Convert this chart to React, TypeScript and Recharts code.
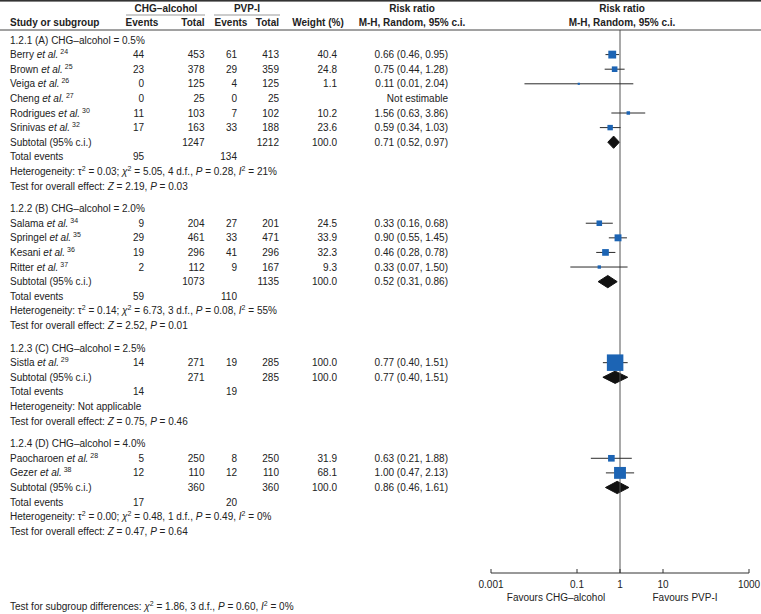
import { Area, ComposedChart, ErrorBar, ReferenceLine, Scatter, XAxis, YAxis } from "recharts";

const GROUP_TITLES = [
  "1.2.1 (A) CHG\u2013alcohol = 0.5%",
  "1.2.2 (B) CHG\u2013alcohol = 2.0%",
  "1.2.3 (C) CHG\u2013alcohol = 2.5%",
  "1.2.4 (D) CHG\u2013alcohol = 4.0%",
];
const STUDY_NAMES = [
  ["Berry", "Brown", "Veiga", "Cheng", "Rodrigues", "Srinivas"],
  ["Salama", "Springel", "Kesani", "Ritter"],
  ["Sistla"],
  ["Paocharoen", "Gezer"],
];
const STUDY_REFS = [[24, 25, 26, 27, 30, 32], [34, 35, 36, 37], [29], [28, 38]];
const CHG_EVENTS = [[44, 23, 0, 0, 11, 17], [9, 29, 19, 2], [14], [5, 12]];
const CHG_TOTALS = [[453, 378, 125, 25, 103, 163], [204, 461, 296, 112], [271], [250, 110]];
const PVP_EVENTS = [[61, 29, 4, 0, 7, 33], [27, 33, 41, 9], [19], [8, 12]];
const PVP_TOTALS = [[413, 359, 125, 25, 102, 188], [201, 471, 296, 167], [285], [250, 110]];
const WEIGHTS = [[40.4, 24.8, 1.1, null, 10.2, 23.6], [24.5, 33.9, 32.3, 9.3], [100.0], [31.9, 68.1]];
const RISK_RATIOS = [[0.66, 0.75, 0.11, null, 1.56, 0.59], [0.33, 0.9, 0.46, 0.33], [0.77], [0.63, 1.0]];
const CI_LOWER = [[0.46, 0.44, 0.006, null, 0.63, 0.34], [0.16, 0.55, 0.28, 0.07], [0.4], [0.21, 0.47]];
const CI_UPPER = [[0.95, 1.28, 2.04, null, 3.86, 1.03], [0.68, 1.45, 0.78, 1.5], [1.51], [1.88, 2.13]];

const SUB_CHG_TOTALS = [1247, 1073, 271, 360];
const SUB_PVP_TOTALS = [1212, 1135, 285, 360];
const SUB_RR = [0.71, 0.52, 0.77, 0.86];
const SUB_LOWER = [0.52, 0.31, 0.4, 0.46];
const SUB_UPPER = [0.97, 0.86, 1.51, 1.61];
const TOTAL_EVENTS_CHG = [95, 59, 14, 17];
const TOTAL_EVENTS_PVP = [134, 110, 19, 20];

const HET_TAU2 = ["0.03", "0.14", null, "0.00"];
const HET_CHI2 = ["5.05", "6.73", null, "0.48"];
const HET_DF = [4, 3, null, 1];
const HET_P = ["0.28", "0.08", null, "0.49"];
const HET_I2 = [21, 55, null, 0];
const OVERALL_Z = ["2.19", "2.52", "0.75", "0.47"];
const OVERALL_P = ["0.03", "0.01", "0.46", "0.64"];

const AXIS_TICKS = [0.001, 0.1, 1, 10, 1000];

// layout
const W = 761;
const H = 614;
const FONT = "'Liberation Sans', Arial, Helvetica, sans-serif";
const FS = 10;
const SUP = 7;
const INK = "#222";
const ROW_TOP = 40;
const ROW_PX = 14.6;
const GROUP_GAP = 1.55;
const PLOT_TOP = 30;
const PLOT_BOTTOM = 573;
const PLOT_LEFT = 491;
const PLOT_RIGHT = 749;
const Y_DOMAIN = [(PLOT_TOP - ROW_TOP) / ROW_PX, (PLOT_BOTTOM - ROW_TOP) / ROW_PX];
const DIAMOND_HALF = 0.42;

const COL = { name: 10, chgEv: 144, chgTot: 204.5, pvpEv: 237, pvpTot: 279, weight: 337, rr: 448 };

type Row = { u: number; kind: string; g: number; i: number };
const rows: Row[] = [];
const subtotalRowU: number[] = [];
let cur = 0;
GROUP_TITLES.forEach((_, g) => {
  rows.push({ u: cur++, kind: "heading", g, i: -1 });
  STUDY_NAMES[g].forEach((_, i) => rows.push({ u: cur++, kind: "study", g, i }));
  subtotalRowU.push(cur);
  rows.push({ u: cur++, kind: "subtotal", g, i: -1 });
  rows.push({ u: cur++, kind: "events", g, i: -1 });
  rows.push({ u: cur++, kind: "het", g, i: -1 });
  rows.push({ u: cur, kind: "test", g, i: -1 });
  cur += GROUP_GAP;
});

const studyPoints = rows
  .filter((r) => r.kind === "study" && RISK_RATIOS[r.g][r.i] != null)
  .map((r) => {
    const rr = RISK_RATIOS[r.g][r.i] as number;
    return {
      x: rr,
      y: r.u,
      w: WEIGHTS[r.g][r.i] as number,
      err: [rr - (CI_LOWER[r.g][r.i] as number), (CI_UPPER[r.g][r.i] as number) - rr],
    };
  });

const rowY = (u: number) => ROW_TOP + ROW_PX * u + FS * 0.35;

const renderSquare = (p: any) => {
  const w = p.payload?.w ?? p.w ?? 10;
  const s = 2 + (14.5 * w) / 100;
  return <rect x={p.cx - s / 2} y={p.cy - s / 2} width={s} height={s} fill="#1c64b4" />;
};

// superscript "2" followed by the rest of the text back on the baseline
const sq = (rest: string) => [
  <tspan key="s" dy={-4} fontSize={SUP}>2</tspan>,
  <tspan key="r" dy={4}>{rest}</tspan>,
];

function Num({ x, y, v }: { x: number; y: number; v: string | number }) {
  return (
    <text x={x} y={y} textAnchor="end">
      {v}
    </text>
  );
}

function TableRow({ r }: { r: Row }) {
  const y = rowY(r.u);
  const g = r.g;
  if (r.kind === "heading") {
    return <text x={COL.name} y={y}>{GROUP_TITLES[g]}</text>;
  }
  if (r.kind === "study") {
    const i = r.i;
    const rr = RISK_RATIOS[g][i];
    const wt = WEIGHTS[g][i];
    return (
      <g>
        <text x={COL.name} y={y}>
          {STUDY_NAMES[g][i] + " "}
          <tspan fontStyle="italic">et al.</tspan>
          <tspan dy={-4} fontSize={SUP}>{" " + STUDY_REFS[g][i]}</tspan>
        </text>
        <Num x={COL.chgEv} y={y} v={CHG_EVENTS[g][i]} />
        <Num x={COL.chgTot} y={y} v={CHG_TOTALS[g][i]} />
        <Num x={COL.pvpEv} y={y} v={PVP_EVENTS[g][i]} />
        <Num x={COL.pvpTot} y={y} v={PVP_TOTALS[g][i]} />
        {wt != null && <Num x={COL.weight} y={y} v={wt.toFixed(1)} />}
        <Num
          x={COL.rr}
          y={y}
          v={
            rr == null
              ? "Not estimable"
              : `${rr.toFixed(2)} (${(CI_LOWER[g][i] as number).toFixed(2)}, ${(CI_UPPER[g][i] as number).toFixed(2)})`
          }
        />
      </g>
    );
  }
  if (r.kind === "subtotal") {
    return (
      <g>
        <text x={COL.name} y={y}>Subtotal (95% c.i.)</text>
        <Num x={COL.chgTot} y={y} v={SUB_CHG_TOTALS[g]} />
        <Num x={COL.pvpTot} y={y} v={SUB_PVP_TOTALS[g]} />
        <Num x={COL.weight} y={y} v="100.0" />
        <Num
          x={COL.rr}
          y={y}
          v={`${SUB_RR[g].toFixed(2)} (${SUB_LOWER[g].toFixed(2)}, ${SUB_UPPER[g].toFixed(2)})`}
        />
      </g>
    );
  }
  if (r.kind === "events") {
    return (
      <g>
        <text x={COL.name} y={y}>Total events</text>
        <Num x={COL.chgEv} y={y} v={TOTAL_EVENTS_CHG[g]} />
        <Num x={COL.pvpEv} y={y} v={TOTAL_EVENTS_PVP[g]} />
      </g>
    );
  }
  if (r.kind === "het") {
    if (HET_TAU2[g] == null) {
      return <text x={COL.name} y={y}>Heterogeneity: Not applicable</text>;
    }
    return (
      <text x={COL.name} y={y}>
        {"Heterogeneity: \u03c4"}
        {sq(` = ${HET_TAU2[g]}; `)}
        <tspan fontStyle="italic">{"\u03c7"}</tspan>
        {sq(` = ${HET_CHI2[g]}, ${HET_DF[g]} d.f., `)}
        <tspan fontStyle="italic">P</tspan>
        {` = ${HET_P[g]}, `}
        <tspan fontStyle="italic">I</tspan>
        {sq(` = ${HET_I2[g]}%`)}
      </text>
    );
  }
  return (
    <text x={COL.name} y={y}>
      {"Test for overall effect: "}
      <tspan fontStyle="italic">Z</tspan>
      {` = ${OVERALL_Z[g]}, `}
      <tspan fontStyle="italic">P</tspan>
      {` = ${OVERALL_P[g]}`}
    </text>
  );
}

export default function App() {
  return (
    <div style={{ position: "absolute", left: 0, top: 0, width: W, height: H, background: "#fff", fontFamily: FONT }}>
      <div style={{ position: "absolute", left: 0, top: 0 }}>
        <ComposedChart
          width={W}
          height={H}
          margin={{ top: PLOT_TOP, right: W - PLOT_RIGHT, bottom: H - PLOT_BOTTOM - 30, left: PLOT_LEFT }}
        >
          <XAxis
            type="number"
            dataKey="x"
            scale="log"
            domain={[0.001, 1000]}
            allowDataOverflow
            ticks={AXIS_TICKS}
            interval={0}
            height={30}
            tickSize={-4}
            tickMargin={12}
            stroke="#333"
            tick={{ fontSize: FS, fill: INK, fontFamily: FONT }}
            tickFormatter={(v: number) => String(v)}
          />
          <YAxis type="number" dataKey="y" domain={Y_DOMAIN} allowDataOverflow reversed hide />
          <ReferenceLine x={1} stroke="#555" strokeWidth={1} />
          <Scatter data={studyPoints} shape={renderSquare} isAnimationActive={false}>
            <ErrorBar dataKey="err" direction="x" width={0} stroke="#2a2a2a" strokeWidth={1} />
          </Scatter>
          {SUB_RR.map((rr, g) => {
            const u = subtotalRowU[g];
            const pts = [
              { x: SUB_LOWER[g], d: [u, u] },
              { x: rr, d: [u - DIAMOND_HALF, u + DIAMOND_HALF] },
              { x: SUB_UPPER[g], d: [u, u] },
            ];
            return (
              <Area
                key={g}
                data={pts}
                dataKey="d"
                type="linear"
                stroke="#111"
                fill="#111"
                fillOpacity={1}
                dot={false}
                activeDot={false}
                isAnimationActive={false}
              />
            );
          })}
        </ComposedChart>
      </div>
      <svg
        width={W}
        height={H}
        style={{ position: "absolute", left: 0, top: 0, pointerEvents: "none" }}
        fontFamily={FONT}
        fontSize={FS}
        fill={INK}
      >
        <rect x={0} y={0} width={W} height={1.6} fill="#333" />
        <line x1={0} x2={W} y1={30} y2={30} stroke="#444" strokeWidth={1} />
        <line x1={126} x2={205} y1={15} y2={15} stroke="#999" strokeWidth={1} />
        <line x1={214} x2={280} y1={15} y2={15} stroke="#999" strokeWidth={1} />
        <g fontWeight="bold">
          <text x={166} y={12} textAnchor="middle">{"CHG\u2013alcohol"}</text>
          <text x={247} y={12} textAnchor="middle">PVP-I</text>
          <text x={COL.name} y={26}>Study or subgroup</text>
          <text x={142} y={26} textAnchor="middle">Events</text>
          <text x={204.5} y={26} textAnchor="end">Total</text>
          <text x={231} y={26} textAnchor="middle">Events</text>
          <text x={279} y={26} textAnchor="end">Total</text>
          <text x={318} y={26} textAnchor="middle">Weight (%)</text>
          <text x={412} y={12} textAnchor="middle">Risk ratio</text>
          <text x={412} y={26} textAnchor="middle">M-H, Random, 95% c.i.</text>
          <text x={622} y={12} textAnchor="middle">Risk ratio</text>
          <text x={622} y={26} textAnchor="middle">M-H, Random, 95% c.i.</text>
        </g>
        {rows.map((r, k) => (
          <TableRow key={k} r={r} />
        ))}
        <text x={556} y={601} textAnchor="middle">{"Favours CHG\u2013alcohol"}</text>
        <text x={685} y={601} textAnchor="middle">Favours PVP-I</text>
        <text x={COL.name} y={610}>
          {"Test for subgroup differences: "}
          <tspan fontStyle="italic">{"\u03c7"}</tspan>
          {sq(" = 1.86, 3 d.f., ")}
          <tspan fontStyle="italic">P</tspan>
          {" = 0.60, "}
          <tspan fontStyle="italic">I</tspan>
          {sq(" = 0%")}
        </text>
      </svg>
    </div>
  );
}
